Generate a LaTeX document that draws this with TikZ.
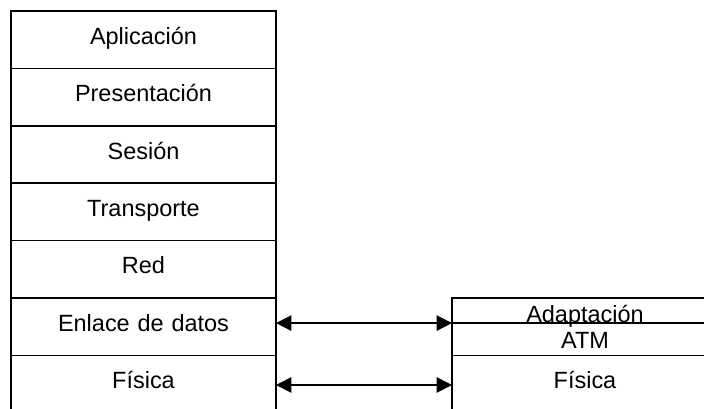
\documentclass[tikz,border=0pt]{standalone}
\usepackage{fontspec}
\setmainfont{Liberation Sans}
\usetikzlibrary{arrows.meta}
\tikzset{
  every node/.style={font=\fontsize{17.6}{20}\selectfont, text=black},
  layer/.style={draw=black, line width=1.2pt, inner sep=0pt, outer sep=0pt, anchor=north west,
    minimum width=198.75pt, minimum height=#1*0.75pt, text width=198.75pt, align=center},
  rlayer/.style={draw=black, line width=1.2pt, inner sep=0pt, outer sep=0pt, anchor=north west,
    minimum width=199.5pt, minimum height=#1*0.75pt, text width=199.5pt, align=center},
  link/.style={line width=1.3pt, {Triangle[length=11.5pt,width=11.5pt]}-{Triangle[length=11.5pt,width=11.5pt]}}
}
\begin{document}
\begin{tikzpicture}[x=0.75pt,y=-0.75pt]
\useasboundingbox (0,0) rectangle (704,408);
\clip (0,0) rectangle (704,408);
\node[layer=57.4, text height=25pt, text depth=18pt] (apl) at (11,11) {Aplicación};
\node[layer=57.4, text height=25pt, text depth=18pt] (pre) at (11,68.4) {Presentación};
\node[layer=57.4, text height=25pt, text depth=18pt] (ses) at (11,125.8) {Sesión};
\node[layer=57.4, text height=25pt, text depth=18pt] (tra) at (11,183.2) {Transporte};
\node[layer=57.4, text height=25pt, text depth=18pt] (red) at (11,240.6) {Red};
\node[layer=57.4, text height=25pt, text depth=18pt] (enl) at (11,298) {Enlace de datos};
\node[layer=57.4, text height=25pt, text depth=18pt] (fil) at (11,355.4) {Física};
\node[rlayer=25, text height=18.2pt, text depth=0.6pt] (ada) at (452,298) {Adaptación};
\node[rlayer=32.4, text height=19.1pt, text depth=5.2pt] (atm) at (452,323) {ATM};
\node[rlayer=57.4, text height=25pt, text depth=18pt] (fir) at (452,355.4) {Física};
\coordinate (l1) at (enl.east |- ada.south);
\coordinate (r1) at (ada.south west);
\coordinate (l2) at (276,385);
\coordinate (r2) at (452,385);
\draw[link] (l1) -- (r1);
\draw[link] (l2) -- (r2);
\end{tikzpicture}
\end{document}
